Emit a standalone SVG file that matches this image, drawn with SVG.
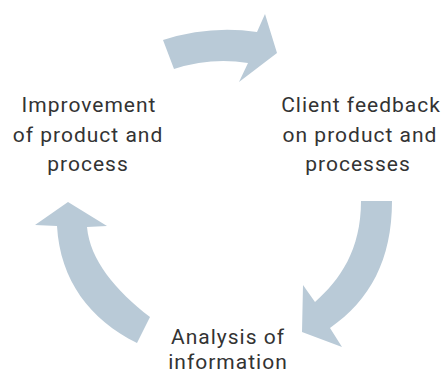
<svg xmlns="http://www.w3.org/2000/svg" width="443" height="372" viewBox="0 0 443 372">
<style>
.arrow{fill:#b9cad7;stroke:none}
.lbl{font-family:Roboto,"Open Sans","DejaVu Sans",sans-serif;font-size:21px;letter-spacing:1px;fill:#333333;text-anchor:middle}
</style>
<rect width="443" height="372" fill="#ffffff"/>
<g id="connectors">
<path id="arrow-top" class="arrow" d="M163,40 Q210,25 257,32 L265,14 L277,53 L239,82 L248,63 Q211,57 174,69 Z"/>
<path id="arrow-right" class="arrow" d="M361,201 L392,201 C392,260 370,300 330,328 L342,347 L302,332 L303,285 L315,302 C340,280 361,250 361,201 Z"/>
<path id="arrow-left" class="arrow" d="M68,202 L107,226 L87,227 C90,260 115,290 150,317 L137,343 C90,320 60,280 57,226 L35,225 Z"/>
</g>
<g id="node-improvement">
<text class="lbl" x="89" y="112">Improvement</text>
<text class="lbl" x="88" y="141.5">of product and</text>
<text class="lbl" x="88" y="171">process</text>
</g>
<g id="node-feedback">
<text class="lbl" x="361" y="112">Client feedback</text>
<text class="lbl" x="360" y="141.5">on product and</text>
<text class="lbl" x="358" y="171">processes</text>
</g>
<g id="node-analysis">
<text class="lbl" x="228" y="343.5">Analysis of</text>
<text class="lbl" x="228" y="369">information</text>
</g>
</svg>
